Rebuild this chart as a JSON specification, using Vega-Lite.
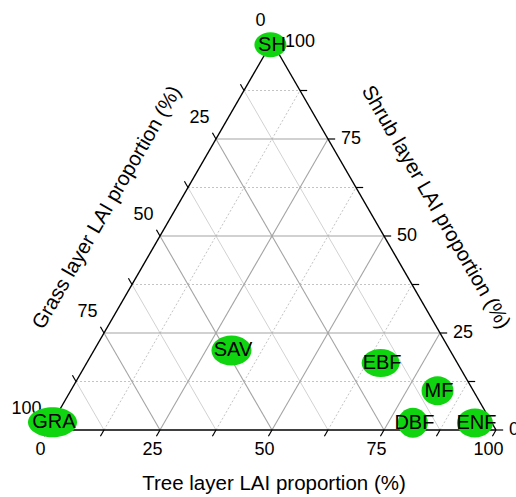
{
  "$schema": "https://vega.github.io/schema/vega-lite/v6.json",
  "width": 448,
  "height": 388,
  "autosize": "none",
  "padding": {"left": 48, "top": 42, "right": 20, "bottom": 67},
  "config": {"view": {"stroke": null}, "font": "Liberation Sans"},
  "datasets": {
    "scale": [
      {"family": "tree", "value": 0}, {"family": "tree", "value": 12.5}, {"family": "tree", "value": 25}, {"family": "tree", "value": 37.5}, {"family": "tree", "value": 50}, {"family": "tree", "value": 62.5}, {"family": "tree", "value": 75}, {"family": "tree", "value": 87.5}, {"family": "tree", "value": 100},
      {"family": "shrub", "value": 0}, {"family": "shrub", "value": 12.5}, {"family": "shrub", "value": 25}, {"family": "shrub", "value": 37.5}, {"family": "shrub", "value": 50}, {"family": "shrub", "value": 62.5}, {"family": "shrub", "value": 75}, {"family": "shrub", "value": 87.5}, {"family": "shrub", "value": 100},
      {"family": "grass", "value": 0}, {"family": "grass", "value": 12.5}, {"family": "grass", "value": 25}, {"family": "grass", "value": 37.5}, {"family": "grass", "value": 50}, {"family": "grass", "value": 62.5}, {"family": "grass", "value": 75}, {"family": "grass", "value": 87.5}, {"family": "grass", "value": 100}
    ],
    "titles": [
      {"family": "tree", "title": "Tree layer LAI proportion (%)"},
      {"family": "shrub", "title": "Shrub layer LAI proportion (%)"},
      {"family": "grass", "title": "Grass layer LAI proportion (%)"}
    ],
    "points": [
      {"type": "GRA", "tree": 0, "shrub": 2, "grass": 98},
      {"type": "SH", "tree": 0, "shrub": 99.3, "grass": 0.7},
      {"type": "SAV", "tree": 30.7, "shrub": 20.5, "grass": 48.8},
      {"type": "EBF", "tree": 65.6, "shrub": 17.3, "grass": 17.1},
      {"type": "MF", "tree": 81.9, "shrub": 10.1, "grass": 8},
      {"type": "DBF", "tree": 80.5, "shrub": 1.9, "grass": 17.6},
      {"type": "ENF", "tree": 94.4, "shrub": 1.8, "grass": 3.8}
    ]
  },
  "encoding": {
    "x": {"field": "x", "type": "quantitative", "scale": {"domain": [0, 100], "nice": false, "zero": false}, "axis": null},
    "y": {"field": "y", "type": "quantitative", "scale": {"domain": [0, 100], "nice": false, "zero": false}, "axis": null}
  },
  "layer": [
    {
      "data": {"name": "scale"},
      "transform": [
        {"filter": "datum.family=='grass' && datum.value>0 && datum.value<100 && datum.value%25!=0"},
        {"calculate": "datum.family=='tree' ? datum.value : datum.family=='shrub' ? datum.value/2 : 100-datum.value", "as": "x"},
        {"calculate": "datum.family=='shrub' ? datum.value : 0", "as": "y"},
        {"calculate": "datum.family=='tree' ? (100+datum.value)/2 : datum.family=='shrub' ? 100-datum.value/2 : (100-datum.value)/2", "as": "x2"},
        {"calculate": "datum.family=='shrub' ? datum.value : 100-datum.value", "as": "y2"}
      ],
      "mark": {"type": "rule", "color": "#d2d2d2", "strokeWidth": 1},
      "encoding": {"x2": {"field": "x2"}, "y2": {"field": "y2"}}
    },
    {
      "data": {"name": "scale"},
      "transform": [
        {"filter": "datum.family!='grass' && datum.value>0 && datum.value<100 && datum.value%25!=0"},
        {"calculate": "datum.family=='tree' ? datum.value : datum.family=='shrub' ? datum.value/2 : 100-datum.value", "as": "x"},
        {"calculate": "datum.family=='shrub' ? datum.value : 0", "as": "y"},
        {"calculate": "datum.family=='tree' ? (100+datum.value)/2 : datum.family=='shrub' ? 100-datum.value/2 : (100-datum.value)/2", "as": "x2"},
        {"calculate": "datum.family=='shrub' ? datum.value : 100-datum.value", "as": "y2"}
      ],
      "mark": {"type": "rule", "color": "#c4c4c4", "strokeWidth": 1, "strokeDash": [2, 2]},
      "encoding": {"x2": {"field": "x2"}, "y2": {"field": "y2"}}
    },
    {
      "data": {"name": "scale"},
      "transform": [
        {"filter": "datum.value>0 && datum.value<100 && datum.value%25==0"},
        {"calculate": "datum.family=='tree' ? datum.value : datum.family=='shrub' ? datum.value/2 : 100-datum.value", "as": "x"},
        {"calculate": "datum.family=='shrub' ? datum.value : 0", "as": "y"},
        {"calculate": "datum.family=='tree' ? (100+datum.value)/2 : datum.family=='shrub' ? 100-datum.value/2 : (100-datum.value)/2", "as": "x2"},
        {"calculate": "datum.family=='shrub' ? datum.value : 100-datum.value", "as": "y2"}
      ],
      "mark": {"type": "rule", "color": "#a4a4a4", "strokeWidth": 1.1},
      "encoding": {"x2": {"field": "x2"}, "y2": {"field": "y2"}}
    },
    {
      "data": {"name": "scale"},
      "transform": [
        {"filter": "datum.value==0"},
        {"calculate": "datum.family=='tree' ? datum.value : datum.family=='shrub' ? datum.value/2 : 100-datum.value", "as": "x"},
        {"calculate": "datum.family=='shrub' ? datum.value : 0", "as": "y"},
        {"calculate": "datum.family=='tree' ? (100+datum.value)/2 : datum.family=='shrub' ? 100-datum.value/2 : (100-datum.value)/2", "as": "x2"},
        {"calculate": "datum.family=='shrub' ? datum.value : 100-datum.value", "as": "y2"}
      ],
      "mark": {"type": "rule", "color": "#000000", "strokeWidth": 1.4},
      "encoding": {"x2": {"field": "x2"}, "y2": {"field": "y2"}}
    },
    {
      "data": {"name": "scale"},
      "transform": [
        {"calculate": "datum.family=='tree' ? datum.value : datum.family=='shrub' ? 100-datum.value/2 : (100-datum.value)/2", "as": "x"},
        {"calculate": "datum.family=='tree' ? 0 : datum.family=='shrub' ? datum.value : 100-datum.value", "as": "y"},
        {"calculate": "datum.family=='shrub' ? datum.x+1.6 : datum.x-0.8", "as": "x2"},
        {"calculate": "datum.family=='tree' ? -1.6 : datum.family=='shrub' ? datum.y : datum.y+1.6", "as": "y2"}
      ],
      "mark": {"type": "rule", "color": "#000000", "strokeWidth": 1.2},
      "encoding": {"x2": {"field": "x2"}, "y2": {"field": "y2"}}
    },
    {
      "data": {"name": "scale"},
      "transform": [
        {"filter": "datum.family=='tree' && datum.value%25==0"},
        {"calculate": "datum.value", "as": "x"},
        {"calculate": "0", "as": "y"}
      ],
      "mark": {"type": "text", "fontSize": 18, "align": "center", "baseline": "middle", "dx": -7.5, "dy": 20, "color": "#000000"},
      "encoding": {"text": {"field": "value", "type": "quantitative", "format": "d"}}
    },
    {
      "data": {"name": "scale"},
      "transform": [
        {"filter": "datum.family=='shrub' && datum.value%25==0"},
        {"calculate": "100-datum.value/2", "as": "x"},
        {"calculate": "datum.value", "as": "y"}
      ],
      "mark": {"type": "text", "fontSize": 18, "align": "left", "baseline": "middle", "dx": 13, "dy": 0, "color": "#000000"},
      "encoding": {"text": {"field": "value", "type": "quantitative", "format": "d"}}
    },
    {
      "data": {"name": "scale"},
      "transform": [
        {"filter": "datum.family=='grass' && datum.value%25==0"},
        {"calculate": "(100-datum.value)/2", "as": "x"},
        {"calculate": "100-datum.value", "as": "y"}
      ],
      "mark": {"type": "text", "fontSize": 18, "align": "right", "baseline": "middle", "dx": -6.5, "dy": -21, "color": "#000000"},
      "encoding": {"text": {"field": "value", "type": "quantitative", "format": "d"}}
    },
    {
      "data": {"name": "titles"},
      "transform": [
        {"filter": "datum.family=='tree'"},
        {"calculate": "50", "as": "x"},
        {"calculate": "0", "as": "y"}
      ],
      "mark": {"type": "text", "fontSize": 20.5, "align": "center", "baseline": "middle", "dx": 2, "dy": 54, "color": "#000000"},
      "encoding": {"text": {"field": "title"}}
    },
    {
      "data": {"name": "titles"},
      "transform": [
        {"filter": "datum.family=='grass'"},
        {"calculate": "25", "as": "x"},
        {"calculate": "50", "as": "y"}
      ],
      "mark": {"type": "text", "fontSize": 20.5, "align": "center", "baseline": "middle", "angle": -60, "dx": -2, "dy": -60, "color": "#000000"},
      "encoding": {"text": {"field": "title"}}
    },
    {
      "data": {"name": "titles"},
      "transform": [
        {"filter": "datum.family=='shrub'"},
        {"calculate": "75", "as": "x"},
        {"calculate": "50", "as": "y"}
      ],
      "mark": {"type": "text", "fontSize": 20.5, "align": "center", "baseline": "middle", "angle": 60, "dx": 1, "dy": -59, "color": "#000000"},
      "encoding": {"text": {"field": "title"}}
    },
    {
      "data": {"name": "points"},
      "transform": [
        {"calculate": "datum.tree + datum.shrub/2", "as": "x"},
        {"calculate": "datum.shrub", "as": "y"}
      ],
      "mark": {"type": "point", "filled": true, "opacity": 1, "size": 4, "color": "#10d410", "strokeWidth": 0},
      "encoding": {
        "shape": {
          "field": "type",
          "type": "nominal",
          "legend": null,
          "scale": {
            "domain": ["GRA", "SH", "SAV", "EBF", "MF", "DBF", "ENF"],
            "range": [
              "M -24.5 0 A 24.5 15 0 1 0 24.5 0 A 24.5 15 0 1 0 -24.5 0 Z",
              "M -16 0 A 16 12.5 0 1 0 16 0 A 16 12.5 0 1 0 -16 0 Z",
              "M -20 0 A 20 15 0 1 0 20 0 A 20 15 0 1 0 -20 0 Z",
              "M -19 0 A 19 14 0 1 0 19 0 A 19 14 0 1 0 -19 0 Z",
              "M -16 0 A 16 14.5 0 1 0 16 0 A 16 14.5 0 1 0 -16 0 Z",
              "M -15 0 A 15 15 0 1 0 15 0 A 15 15 0 1 0 -15 0 Z",
              "M -18 0 A 18 14.5 0 1 0 18 0 A 18 14.5 0 1 0 -18 0 Z"
            ]
          }
        }
      }
    },
    {
      "data": {"name": "points"},
      "transform": [
        {"calculate": "datum.tree + datum.shrub/2", "as": "x"},
        {"calculate": "datum.shrub", "as": "y"}
      ],
      "mark": {"type": "text", "fontSize": 20, "align": "center", "baseline": "middle", "dx": 1.5, "color": "#000000"},
      "encoding": {"text": {"field": "type"}}
    }
  ]
}
